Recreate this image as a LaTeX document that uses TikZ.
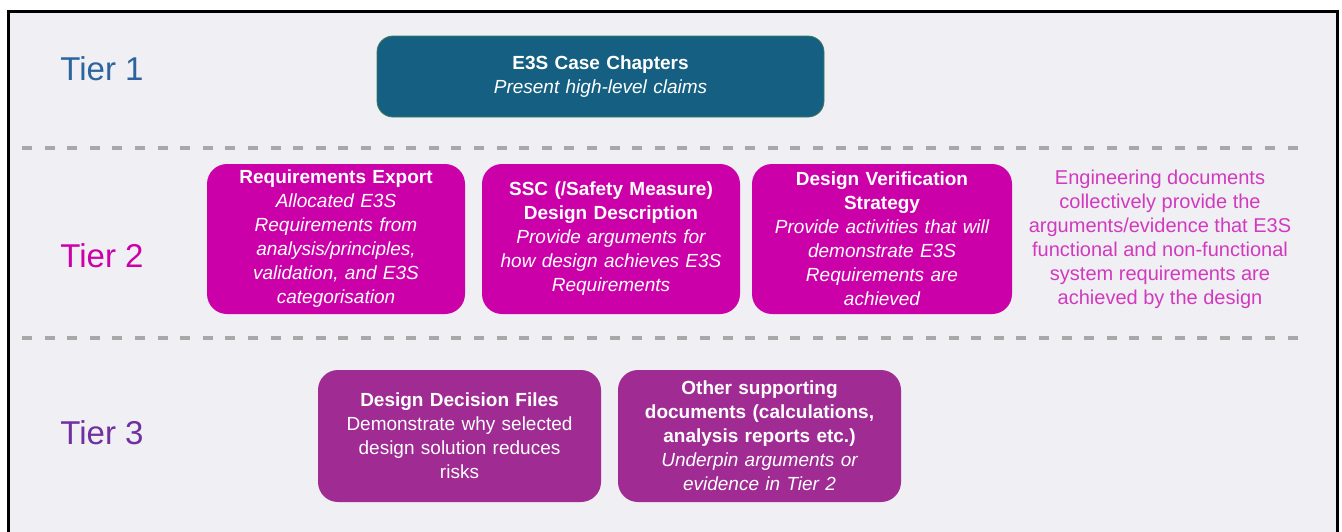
\documentclass[tikz,border=0pt]{standalone}
\usepackage{fontspec}
\setmainfont{Liberation Sans}
\usepackage{xcolor}
\definecolor{bgcol}{RGB}{239,239,244}
\definecolor{sepgray}{RGB}{168,168,168}
\definecolor{tierone}{RGB}{46,100,158}
\definecolor{tiertwo}{RGB}{204,0,168}
\definecolor{tierthree}{RGB}{112,48,160}
\definecolor{chapterfill}{RGB}{21,96,130}
\definecolor{chapterline}{RGB}{62,122,92}
\definecolor{docfill}{RGB}{204,0,168}
\definecolor{suppfill}{RGB}{160,43,147}
\definecolor{notecol}{RGB}{210,58,190}

\begin{document}
\begin{tikzpicture}[x=0.5pt, y=-0.5pt,
  box/.style={rounded corners=10pt, text=white, align=center, inner sep=0pt,
    font=\fontsize{9.5}{12}\selectfont},
  tier/.style={anchor=base west, inner sep=0pt, font=\fontsize{16.5}{20}\selectfont},
  sep/.style={line width=1.8pt, sepgray, dash pattern=on 5pt off 6.3pt}]
 \useasboundingbox (0,0) rectangle (1342,531);
 \fill [white] (0,0) rectangle (1342,531);
 \draw [line width=1.5pt, fill=bgcol] (8.5,11) rectangle (1337.5,560);

 \draw [sep] (22,148) -- (1302,148);
 \draw [sep] (22,338) -- (1302,338);

 \node [tier, text=tierone] (tier1) at (60,80) {Tier 1};
 \node [tier, text=tiertwo] (tier2) at (60,267) {Tier 2};
 \node [tier, text=tierthree] (tier3) at (60,444) {Tier 3};

 \node [box, fill=chapterfill, draw=chapterline, rounded corners=8pt,
   minimum width=223.5pt, minimum height=40.5pt, text width=210pt]
   (chapters) at (600.5,76.5)
   {\bfseries E3S Case Chapters\\ \mdseries\itshape Present high-level claims};

 \node [box, fill=docfill, minimum width=129pt, minimum height=75pt, text width=125pt]
   (reqexport) at (336,239)
   {\bfseries Requirements Export\\ \mdseries\itshape Allocated E3S\\ Requirements from\\
    analysis/principles,\\ validation, and E3S\\ categorisation};
 \node [box, fill=docfill, minimum width=129pt, minimum height=75pt, text width=125pt]
   (ssc) at (611,239)
   {\bfseries SSC (/Safety Measure)\\ Design Description\\ \mdseries\itshape Provide arguments for\\
    how design achieves E3S\\ Requirements};
 \node [box, fill=docfill, minimum width=130pt, minimum height=75pt, text width=126pt]
   (verif) at (882,239)
   {\bfseries Design Verification\\ Strategy\\ \mdseries\itshape Provide activities that will\\
    demonstrate E3S\\ Requirements are\\ achieved};
 \node [align=center, text=notecol, inner sep=0pt, font=\fontsize{10}{12}\selectfont] (note) at (1160,239)
   {Engineering documents\\ collectively provide the\\ arguments/evidence that E3S\\
    functional and non-functional\\ system requirements are\\ achieved by the design};

 \node [box, fill=suppfill, minimum width=141.5pt, minimum height=66pt, text width=136pt]
   (decision) at (459.5,436)
   {\bfseries Design Decision Files\\ \mdseries Demonstrate why selected\\
    design solution reduces\\ risks};
 \node [box, fill=suppfill, minimum width=141.5pt, minimum height=66pt, text width=136pt]
   (other) at (759.5,436)
   {\bfseries Other supporting\\ documents (calculations,\\ analysis reports etc.)\\
    \mdseries\itshape Underpin arguments or\\ evidence in Tier 2};
\end{tikzpicture}
\end{document}
